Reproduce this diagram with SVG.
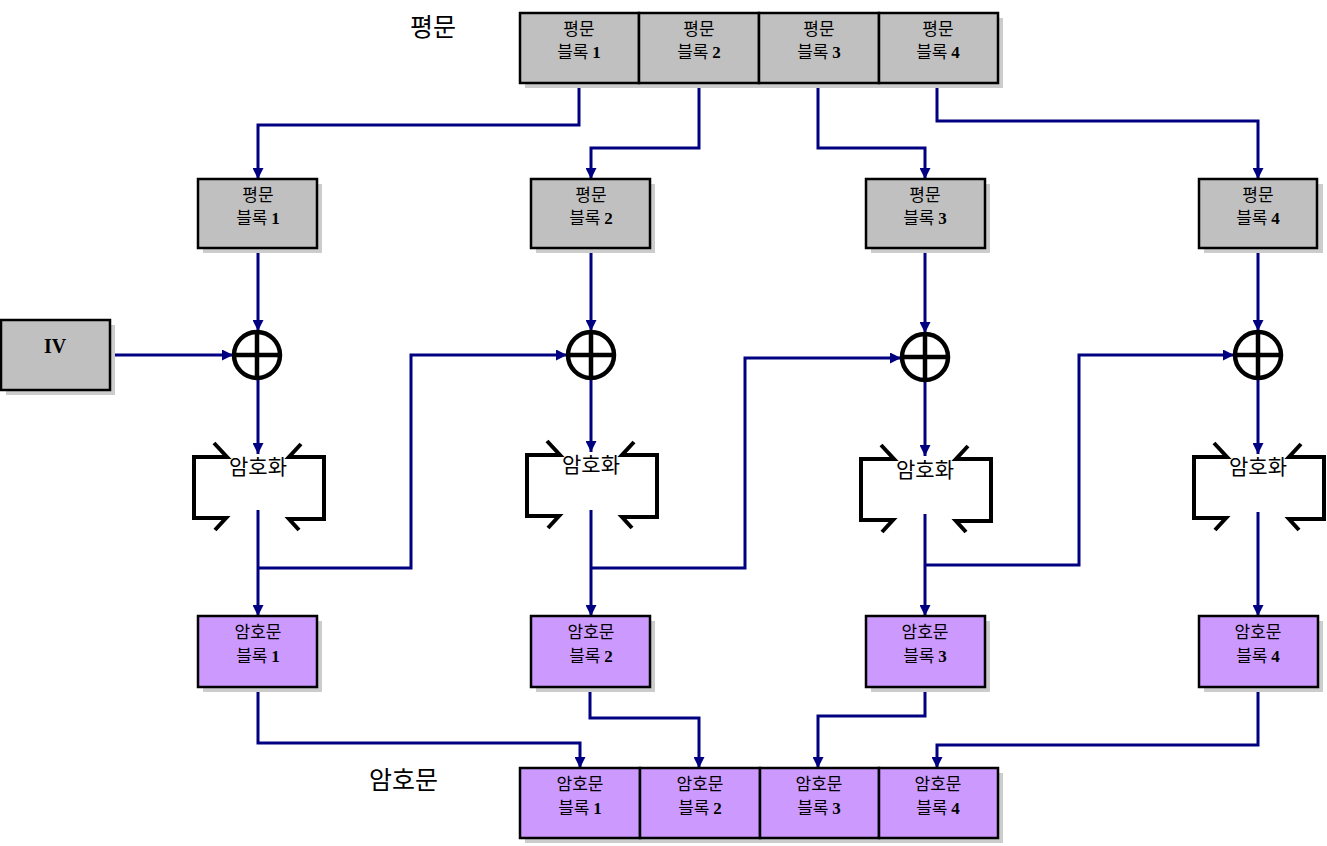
<svg xmlns="http://www.w3.org/2000/svg" width="1327" height="846" viewBox="0 0 1327 846">
<defs>
<style>
.sh{fill:#cccccc}
.pb{fill:#c0c0c0;stroke:#000;stroke-width:2.5}
.cb{fill:#cc99ff;stroke:#000;stroke-width:2.5}
.t{font-family:"Noto Sans CJK KR","Noto Sans",sans-serif;font-size:17px;text-anchor:middle;fill:#000}
.n{font-family:"Liberation Serif",serif;font-weight:bold}
.title{font-family:"Noto Sans CJK KR","Noto Sans",sans-serif;font-size:25px;fill:#000}
.c{fill:none;stroke:#000080;stroke-width:3}
.ca{fill:none;stroke:#000080;stroke-width:3;marker-end:url(#ah)}
.x{fill:none;stroke:#000;stroke-width:4.5}
.br{fill:none;stroke:#000;stroke-width:4;stroke-linejoin:miter}
.et{font-family:"Noto Sans CJK KR","Noto Sans",sans-serif;font-size:21px;text-anchor:middle;fill:#000}
</style>
<marker id="ah" viewBox="0 0 10 10" refX="10" refY="5" markerWidth="11" markerHeight="11" markerUnits="userSpaceOnUse" orient="auto">
<path d="M0,0 L10,5 L0,10 Z" fill="#000080"/>
</marker>
<g id="bracket">
<path class="br" d="M-44,-14 L-31,0 L-64,0 L-64,61 L-32,61 L-43,73"/>
<path class="br" d="M43,-13 L31,0 L66,0 L66,62 L31,62 L41,73"/>
</g>
<g id="xor">
<circle cx="0" cy="0" r="23" class="x"/>
<line x1="-23" y1="0" x2="23" y2="0" class="x"/>
<line x1="0" y1="-23" x2="0" y2="23" class="x"/>
</g>
</defs>
<rect width="1327" height="846" fill="#fff"/>

<text class="title" x="410" y="36">평문</text>
<text class="title" x="369" y="789">암호문</text>

<g id="connectors">
<path class="ca" d="M579,83 V125 H258 V179"/>
<path class="ca" d="M699,83 V148 H591 V179"/>
<path class="ca" d="M818,83 V148 H925 V179"/>
<path class="ca" d="M937,83 V121 H1258 V179"/>
<path class="ca" d="M258,248 V331"/>
<path class="ca" d="M591,248 V331"/>
<path class="ca" d="M925,248 V333"/>
<path class="ca" d="M1258,248 V331"/>
<path class="ca" d="M110,355 H233"/>
<path class="ca" d="M258,379 V454"/>
<path class="ca" d="M591,379 V452"/>
<path class="ca" d="M925,381 V456"/>
<path class="ca" d="M1258,379 V454"/>
<path class="ca" d="M258,510 V616"/>
<path class="ca" d="M591,510 V616"/>
<path class="ca" d="M925,514 V616"/>
<path class="ca" d="M1258,512 V616"/>
<path class="ca" d="M258,568 H411 V355 H567"/>
<path class="ca" d="M591,568 H745 V358 H901"/>
<path class="ca" d="M925,565 H1079 V355 H1234"/>
<path class="ca" d="M258,687 V743 H580 V768"/>
<path class="ca" d="M590,687 V718 H699 V768"/>
<path class="ca" d="M925,687 V716 H818 V768"/>
<path class="ca" d="M1258,687 V745 H937 V768"/>
</g>

<g id="top-plain">
<rect class="sh" x="525" y="18" width="478" height="70"/>
<g id="tp1"><rect class="pb" x="520" y="13" width="119" height="70"/><text class="t" x="579" y="35">평문</text><text class="t" x="579" y="58">블록 <tspan class="n">1</tspan></text></g>
<g id="tp2"><rect class="pb" x="639" y="13" width="120" height="70"/><text class="t" x="699" y="35">평문</text><text class="t" x="699" y="58">블록 <tspan class="n">2</tspan></text></g>
<g id="tp3"><rect class="pb" x="759" y="13" width="120" height="70"/><text class="t" x="819" y="35">평문</text><text class="t" x="819" y="58">블록 <tspan class="n">3</tspan></text></g>
<g id="tp4"><rect class="pb" x="879" y="13" width="119" height="70"/><text class="t" x="938" y="35">평문</text><text class="t" x="938" y="58">블록 <tspan class="n">4</tspan></text></g>
</g>

<g id="p1"><rect class="sh" x="203" y="184" width="119" height="69"/><rect class="pb" x="198" y="179" width="119" height="69"/><text class="t" x="258" y="201">평문</text><text class="t" x="258" y="224">블록 <tspan class="n">1</tspan></text></g>
<g id="p2"><rect class="sh" x="536" y="184" width="119" height="69"/><rect class="pb" x="531" y="179" width="119" height="69"/><text class="t" x="591" y="201">평문</text><text class="t" x="591" y="224">블록 <tspan class="n">2</tspan></text></g>
<g id="p3"><rect class="sh" x="871" y="184" width="119" height="69"/><rect class="pb" x="866" y="179" width="119" height="69"/><text class="t" x="925" y="201">평문</text><text class="t" x="925" y="224">블록 <tspan class="n">3</tspan></text></g>
<g id="p4"><rect class="sh" x="1204" y="184" width="119" height="69"/><rect class="pb" x="1199" y="179" width="118" height="69"/><text class="t" x="1258" y="201">평문</text><text class="t" x="1258" y="224">블록 <tspan class="n">4</tspan></text></g>

<g id="iv"><rect class="sh" x="6" y="325" width="109" height="70"/><rect class="pb" x="1" y="320" width="109" height="70"/><text x="55" y="353" text-anchor="middle" font-family="Liberation Serif, serif" font-weight="bold" font-size="20">IV</text></g>

<g id="xor1"><use href="#xor" x="257" y="355"/></g>
<g id="xor2"><use href="#xor" x="591" y="355"/></g>
<g id="xor3"><use href="#xor" x="925" y="357"/></g>
<g id="xor4"><use href="#xor" x="1258" y="355"/></g>

<g id="enc1"><use href="#bracket" x="258" y="457"/><text class="et" x="258" y="474">암호화</text></g>
<g id="enc2"><use href="#bracket" x="591" y="455"/><text class="et" x="591" y="472">암호화</text></g>
<g id="enc3"><use href="#bracket" x="925" y="459"/><text class="et" x="925" y="477">암호화</text></g>
<g id="enc4"><use href="#bracket" x="1258" y="457"/><text class="et" x="1258" y="474">암호화</text></g>

<g id="c1"><rect class="sh" x="203" y="621" width="119" height="71"/><rect class="cb" x="198" y="616" width="119" height="71"/><text class="t" x="258" y="638">암호문</text><text class="t" x="258" y="662">블록 <tspan class="n">1</tspan></text></g>
<g id="c2"><rect class="sh" x="536" y="621" width="119" height="71"/><rect class="cb" x="531" y="616" width="119" height="71"/><text class="t" x="591" y="638">암호문</text><text class="t" x="591" y="662">블록 <tspan class="n">2</tspan></text></g>
<g id="c3"><rect class="sh" x="871" y="621" width="119" height="71"/><rect class="cb" x="866" y="616" width="119" height="71"/><text class="t" x="925" y="638">암호문</text><text class="t" x="925" y="662">블록 <tspan class="n">3</tspan></text></g>
<g id="c4"><rect class="sh" x="1204" y="621" width="119" height="71"/><rect class="cb" x="1199" y="616" width="119" height="71"/><text class="t" x="1258" y="638">암호문</text><text class="t" x="1258" y="662">블록 <tspan class="n">4</tspan></text></g>

<g id="bottom-cipher">
<rect class="sh" x="525" y="773" width="478" height="70"/>
<g id="bc1"><rect class="cb" x="520" y="768" width="120" height="70"/><text class="t" x="580" y="790">암호문</text><text class="t" x="580" y="814">블록 <tspan class="n">1</tspan></text></g>
<g id="bc2"><rect class="cb" x="640" y="768" width="120" height="70"/><text class="t" x="700" y="790">암호문</text><text class="t" x="700" y="814">블록 <tspan class="n">2</tspan></text></g>
<g id="bc3"><rect class="cb" x="760" y="768" width="119" height="70"/><text class="t" x="819" y="790">암호문</text><text class="t" x="819" y="814">블록 <tspan class="n">3</tspan></text></g>
<g id="bc4"><rect class="cb" x="879" y="768" width="119" height="70"/><text class="t" x="938" y="790">암호문</text><text class="t" x="938" y="814">블록 <tspan class="n">4</tspan></text></g>
</g>
</svg>
